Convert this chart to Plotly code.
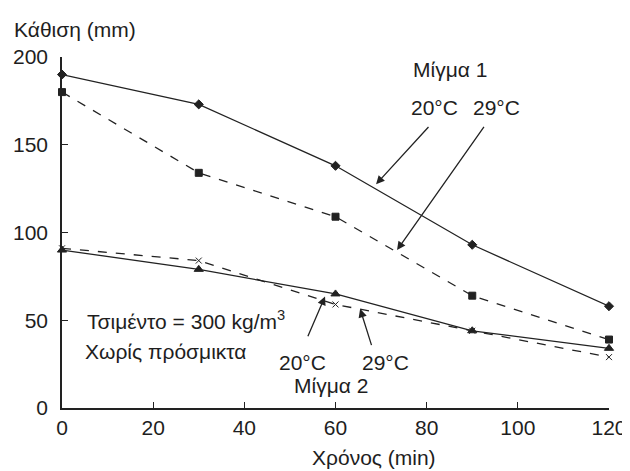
import plotly.graph_objects as go

time_min = [0, 30, 60, 90, 120]
mix1_20 = [190, 173, 138, 93, 58]
mix1_29 = [180, 134, 109, 64, 39]
mix2_20 = [90, 79, 65, 44, 34]
mix2_29 = [91, 84, 59, 44, 29]

x_ticks = [0, 20, 40, 60, 80, 100, 120]
y_ticks = [0, 50, 100, 150, 200]

FONT = "Liberation Sans, Arial, sans-serif"
TXT = "#1e1e1e"
LINE = "#222222"

fig = go.Figure()

def add(y, dash, symbol, size):
    fig.add_trace(go.Scatter(
        x=time_min, y=y, mode="lines+markers",
        line=dict(color=LINE, width=1.3, dash=dash),
        marker=dict(symbol=symbol, size=size, color=LINE,
                    line=dict(color=LINE, width=1)),
        cliponaxis=False, showlegend=False))

add(mix1_20, "solid", "diamond", 7)
add(mix1_29, "dash", "square", 7)
add(mix2_20, "solid", "triangle-up", 8)
add(mix2_29, "dash", "x-thin", 6)

fs = 21
ann = []
def text(x, y, s, xanchor="center", xref="x", yref="y"):
    ann.append(dict(x=x, y=y, xref=xref, yref=yref, text=s, showarrow=False,
                    xanchor=xanchor, yanchor="middle",
                    font=dict(family=FONT, size=fs, color=TXT)))

def arrow(x0, y0, x1, y1):
    ann.append(dict(x=x1, y=y1, ax=x0, ay=y0, xref="x", yref="y",
                    axref="x", ayref="y", text="", showarrow=True,
                    arrowhead=2, arrowsize=1.3, arrowwidth=1.3,
                    arrowcolor=LINE, standoff=0, startstandoff=0))

text(85.1, 192.6, "Μίγμα 1")
text(81.8, 171, "20°C")
text(95.4, 171, "29°C")
arrow(80.7, 161, 68.9, 127.5)
arrow(92.8, 161, 73.5, 90)

text(52.7, 26.2, "20°C")
text(70.9, 26.2, "29°C")
text(59.0, 13, "Μίγμα 2")
arrow(53.8, 40, 57.7, 63.5)
arrow(68.0, 35, 65.4, 56.5)

text(5.0, 50, "Τσιμέντο = 300 kg/m<sup>3</sup>", xanchor="left")
text(4.5, 32, "Χωρίς πρόσμικτα", xanchor="left")

text(-0.0914, 1.077, "Κάθιση (mm)", xanchor="left", xref="paper", yref="paper")
text(0.571, -0.142, "Χρόνος (min)", xref="paper", yref="paper")

# page body has an 8px margin; size the figure so it fits the 630x471 window
fig.update_layout(
    width=622, height=463,
    margin=dict(l=54, r=21, t=49, b=63),
    paper_bgcolor="white", plot_bgcolor="white",
    font=dict(family=FONT, size=fs, color=TXT),
    annotations=ann,
    xaxis=dict(range=[0, 120], tickvals=x_ticks, ticks="inside", ticklen=6,
               tickwidth=1.3, tickcolor=LINE, showline=True, linecolor=LINE,
               linewidth=1.5, showgrid=False, zeroline=False,
               ticklabelstandoff=0, automargin=False,
               tickfont=dict(family=FONT, size=fs, color=TXT)),
    yaxis=dict(range=[0, 200], tickvals=y_ticks, ticks="inside", ticklen=6,
               tickwidth=1.3, tickcolor=LINE, showline=True, linecolor=LINE,
               linewidth=1.5, showgrid=False, zeroline=False,
               ticklabelstandoff=8, automargin=False,
               tickfont=dict(family=FONT, size=fs, color=TXT)),
)

fig.write_html("out.html")
